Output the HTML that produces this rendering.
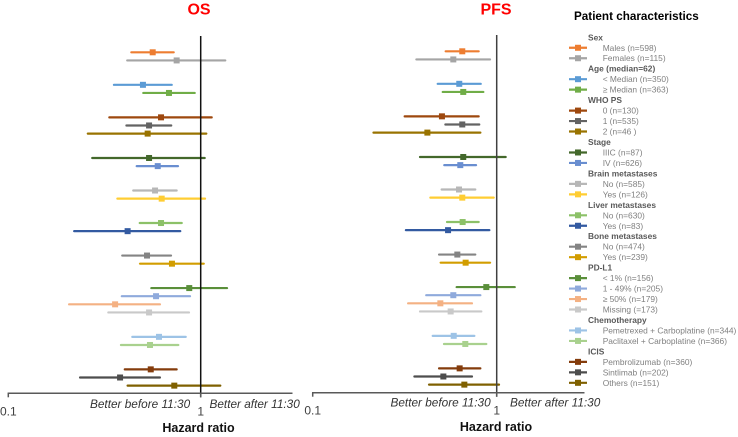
<!DOCTYPE html>
<html lang="en">
<head>
<meta charset="utf-8">
<title>Hazard ratio forest plots</title>
<style>
html,body{margin:0;padding:0;background:#fff;width:738px;height:437px;overflow:hidden}
svg{display:block;font-family:"Liberation Sans",sans-serif;filter:blur(0.3px)}
</style>
</head>
<body>
<svg id="chart" xmlns="http://www.w3.org/2000/svg" width="738" height="437" viewBox="0 0 738 437">
  <text x="199" y="14.5" text-anchor="middle" font-size="16" font-weight="bold" fill="#ff0000">OS</text>
  <text x="496" y="14.5" text-anchor="middle" font-size="16" font-weight="bold" fill="#ff0000">PFS</text>
  <text x="574" y="20" font-size="11.7" font-weight="bold" fill="#000">Patient characteristics</text>
  <text x="90" y="408" font-size="11.8" font-style="italic" fill="#333">Better before 11:30</text>
  <text x="209.5" y="408" font-size="11.8" font-style="italic" fill="#333">Better after 11:30</text>
  <text x="390.5" y="406.5" font-size="11.8" font-style="italic" fill="#333">Better before 11:30</text>
  <text x="510" y="406.5" font-size="11.8" font-style="italic" fill="#333">Better after 11:30</text>
  <text x="198.5" y="432" text-anchor="middle" font-size="12.5" font-weight="bold" fill="#111">Hazard ratio</text>
  <text x="496" y="431" text-anchor="middle" font-size="12.5" font-weight="bold" fill="#111">Hazard ratio</text>
  <g id="plots"></g>
  <g id="legend"></g>
</svg>
<script>
var groupNames = ["Sex","Age (median=62)","WHO PS","Stage","Brain metastases","Liver metastases","Bone metastases","PD-L1","Chemotherapy","ICIS"];
var rowGroups = [0,0,1,1,2,2,2,3,3,4,4,5,5,6,6,7,7,7,7,8,8,9,9,9];
var rowLabels = ["Males (n=598)","Females (n=115)","< Median (n=350)","≥ Median (n=363)","0 (n=130)","1 (n=535)","2 (n=46 )","IIIC (n=87)","IV (n=626)","No (n=585)","Yes (n=126)","No (n=630)","Yes (n=83)","No (n=474)","Yes (n=239)","< 1% (n=156)","1 - 49% (n=205)","≥ 50% (n=179)","Missing (=173)","Pemetrexed + Carboplatine (n=344)","Paclitaxel + Carboplatine (n=366)","Pembrolizumab (n=360)","Sintlimab (n=202)","Others (n=151)"];
var rowColors = ["#ed7d31","#a5a5a5","#5b9bd5","#70ad47","#9e480e","#636363","#997300","#43682b","#698ed0","#b7b7b7","#ffcd33","#8cc168","#335aa1","#848484","#d29d00","#5a8f3a","#8faadc","#f4b183","#c9c9c9","#9dc3e6","#a9d18e","#843c0c","#4d4d4d","#7f6000"];
var osLow = [0.436,0.415,0.354,0.503,0.335,0.411,0.259,0.273,0.465,0.446,0.369,0.482,0.220,0.391,0.484,0.554,0.389,0.207,0.331,0.441,0.385,0.403,0.236,0.417];
var osEst = [0.563,0.750,0.501,0.684,0.622,0.539,0.530,0.539,0.598,0.579,0.627,0.622,0.417,0.526,0.709,0.872,0.586,0.359,0.539,0.607,0.545,0.550,0.381,0.729];
var osHigh = [0.724,1.342,0.707,0.931,1.141,0.703,1.069,1.049,0.762,0.750,1.053,0.797,0.783,0.701,1.037,1.370,0.880,0.614,0.869,0.836,0.765,0.750,0.614,1.264];
var pfsLow = [0.528,0.366,0.478,0.509,0.316,0.526,0.214,0.383,0.519,0.502,0.436,0.537,0.321,0.486,0.496,0.606,0.414,0.330,0.383,0.449,0.517,0.486,0.357,0.429];
var pfsEst = [0.650,0.581,0.626,0.658,0.504,0.650,0.420,0.658,0.634,0.624,0.650,0.653,0.544,0.611,0.678,0.878,0.581,0.494,0.562,0.584,0.675,0.629,0.513,0.667];
var pfsHigh = [0.798,0.920,0.819,0.846,0.798,0.804,0.815,1.119,0.772,0.765,0.963,0.798,0.912,0.765,0.920,1.253,0.815,0.734,0.825,0.756,0.878,0.815,0.734,1.029];
var xTickValues = [0.1, 1];
var xTickLabels = ["0.1", "1"];
var axisMaxValue = 3;

var NS = "http://www.w3.org/2000/svg";
var plotsLayer = document.getElementById("plots");
var legendLayer = document.getElementById("legend");

function make(tag, parent, attrs) {
  var el = document.createElementNS(NS, tag);
  for (var k in attrs) { el.setAttribute(k, attrs[k]); }
  parent.appendChild(el);
  return el;
}

function rowSlot(i) {
  var slot = i;
  for (var j = 1; j <= i; j++) {
    if (rowGroups[j] !== rowGroups[j - 1]) { slot += 2; }
  }
  return slot;
}

function drawPanel(prefix, low, est, high, x01, x1, topY, axisY, lineTop, refColor) {
  var decade = x1 - x01;
  function xScale(v) { return x1 + decade * Math.log10(v); }
  function yScale(i) { return topY + 8.13 * rowSlot(i); }

  var panel = make("g", plotsLayer, {});
  
  

  for (var i = 0; i < rowLabels.length; i++) {
    var y = yScale(i);
    var ci = make("line", panel, {x1: xScale(low[i]), x2: xScale(high[i]), y1: y, y2: y, stroke: rowColors[i], "stroke-width": 2.2, "stroke-linecap": "round"});
    
    
    var pt = make("rect", panel, {x: xScale(est[i]) - 3, y: y - 3, width: 6, height: 6, fill: rowColors[i]});
    
    
  }

  var ref = make("line", panel, {x1: x1, x2: x1, y1: lineTop, y2: axisY + 4, stroke: refColor, "stroke-width": 1.5});
  
  

  var axis = make("line", panel, {x1: xScale(xTickValues[0]) - 0.7, x2: xScale(axisMaxValue), y1: axisY, y2: axisY, stroke: "#595959", "stroke-width": 1.5});
  
  

  for (var t = 0; t < xTickValues.length; t++) {
    var tx = xScale(xTickValues[t]);
    var tick = make("line", panel, {x1: tx, x2: tx, y1: axisY, y2: axisY + 4, stroke: "#595959", "stroke-width": 1.5});
    
    
    var label = make("text", panel, {x: tx, y: axisY + 22, "text-anchor": "middle", "font-size": 12, fill: "#404040"});
    label.textContent = xTickLabels[t];
    
    
  }
}

function drawLegend() {
  var line = 0;
  function lineY(n) { return 37.3 + 10.47 * n; }
  for (var i = 0; i < rowLabels.length; i++) {
    if (i === 0 || rowGroups[i] !== rowGroups[i - 1]) {
      var head = make("text", legendLayer, {x: 588, y: lineY(line) + 3, "font-size": 8.4, "font-weight": "bold", fill: "#595959"});
      head.textContent = groupNames[rowGroups[i]];
      
      
      line++;
    }
    var y = lineY(line);
    var entry = make("g", legendLayer, {});
    
    
    make("line", entry, {x1: 569, x2: 587, y1: y, y2: y, stroke: rowColors[i], "stroke-width": 2.2});
    make("rect", entry, {x: 575, y: y - 3, width: 6, height: 6, fill: rowColors[i]});
    var txt = make("text", entry, {x: 602.7, y: y + 3, "font-size": 8.4, fill: "#808080"});
    txt.textContent = rowLabels[i];
    line++;
  }
}

drawPanel("os", osLow, osEst, osHigh, 8.3, 200.7, 52.3, 393.3, 36, "#111111");
drawPanel("pfs", pfsLow, pfsEst, pfsHigh, 312.7, 496.7, 51.3, 392.7, 35, "#404040");
drawLegend();
</script>
</body>
</html>
